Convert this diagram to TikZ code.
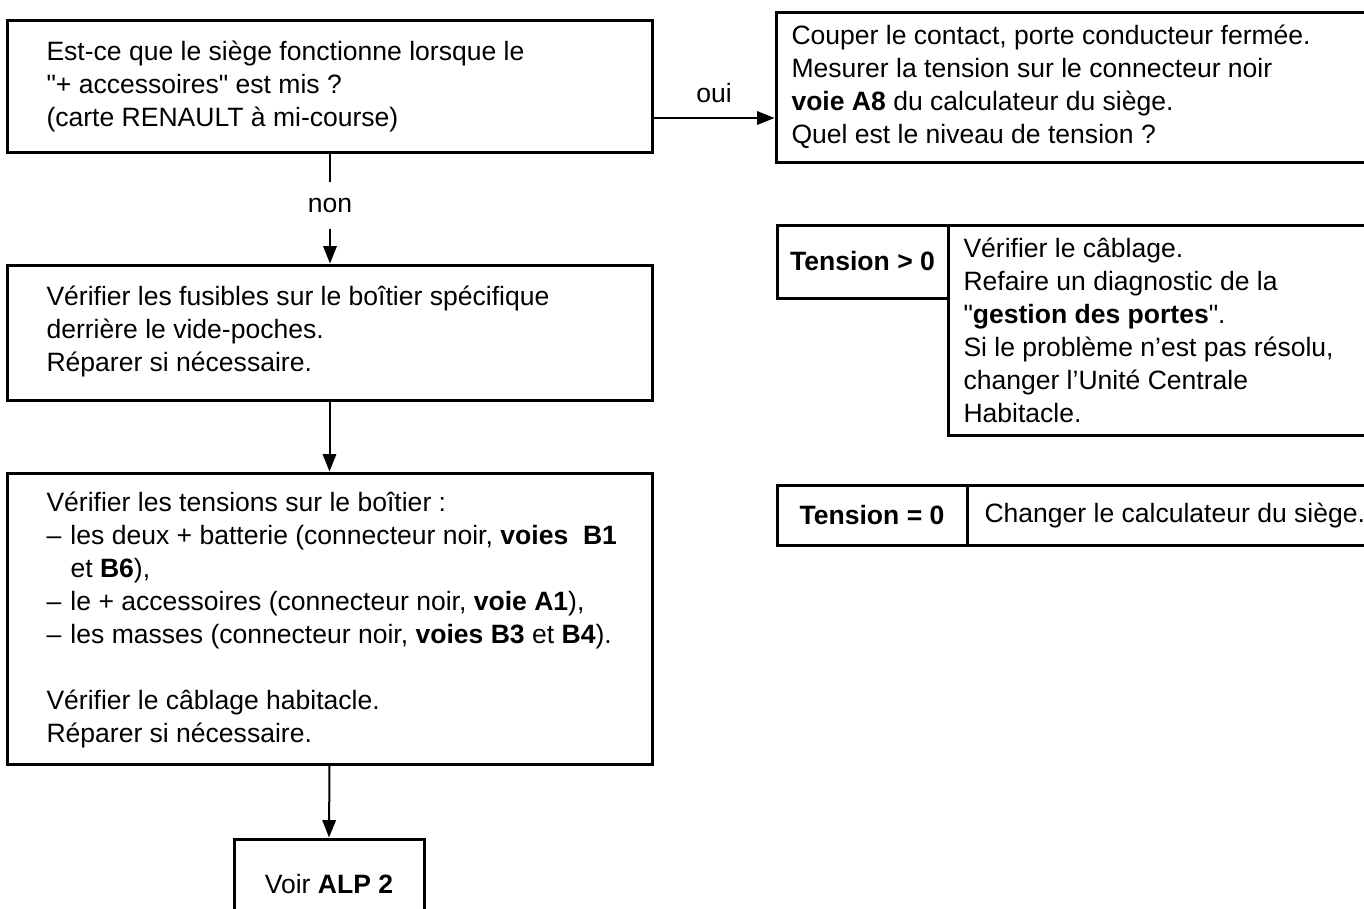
\documentclass[tikz,border=0pt]{standalone}
\usepackage{fontspec}
\setmainfont{Liberation Sans}
\usetikzlibrary{arrows.meta,fit}

\tikzset{every picture/.style={line width=0.75pt}}
\tikzset{
  box/.style={draw, line width=2.25pt, inner sep=0pt},
  txt/.style={anchor=west, align=left, inner sep=0.75pt},
  link/.style={line width=1.5pt, -{Triangle[length=13pt,width=10pt]}}
}
\newcommand{\dashitem}{\makebox[18pt][l]{--}}
\newcommand{\qq}{\XeTeXglyph\XeTeXcharglyph"22\relax}

\begin{document}
\begin{tikzpicture}[x=0.75pt,y=0.75pt,yscale=-1,xscale=1,font=\fontsize{19.9}{24.75}\selectfont]
\clip (0,0) rectangle (1364,908); %page of 1364 x 908

%Shape: Rectangle
\node [box, fit={(7,20) (652,152)}] (qseat) {};
%Shape: Rectangle
\node [box, fit={(7,265) (652,400)}] (qfuse) {};
%Shape: Rectangle
\node [box, fit={(7,473) (652,764)}] (qvolt) {};
%Shape: Rectangle
\node [box, fit={(234,839) (424,930)}] (alp) {};
%Shape: Rectangle
\node [box, fit={(776,12) (1372,162)}] (measure) {};
%Shape: Rectangle
\node [box, fit={(777,225) (948,298)}] (tpos) {};
\node [box, fit={(948,225) (1372,435)}] (tposact) {};
%Shape: Rectangle
\node [box, fit={(777,485) (967,545)}] (tzero) {};
\node [box, fit={(967,485) (1372,545)}] (tzeroact) {};

% Text Node
\node [txt] (qseattxt) at (45,86) {Est-ce que le siège fonctionne lorsque le\\\qq+ accessoires\qq{} est mis ?\\(carte RENAULT à mi-course)};
% Text Node
\node [txt] (qfusetxt) at (45,331) {Vérifier les fusibles sur le boîtier spécifique\\derrière le vide-poches.\\Réparer si nécessaire.};
% Text Node
\node [txt] (qvolttxt) at (45,620) {Vérifier les tensions sur le boîtier :\\
\dashitem les deux + batterie (connecteur noir, \textbf{voies~~B1}\\
\hspace*{18pt}et \textbf{B6}),\\
\dashitem le + accessoires (connecteur noir, \textbf{voie A1}),\\
\dashitem les masses (connecteur noir, \textbf{voies B3} et \textbf{B4}).\\
\strut\\
Vérifier le câblage habitacle.\\
Réparer si nécessaire.};
% Text Node
\node [inner sep=0.75pt] (alptxt) at (alp.center) {Voir \textbf{ALP 2}};
% Text Node
\node [txt] (measuretxt) at (790,87) {Couper le contact, porte conducteur fermée.\\Mesurer la tension sur le connecteur noir\\\textbf{voie A8} du calculateur du siège.\\Quel est le niveau de tension ?};
% Text Node
\node [inner sep=0.75pt] (tpostxt) at (tpos.center) {\textbf{Tension > 0}};
% Text Node
\node [txt] (tposacttxt) at (962,330) {Vérifier le câblage.\\Refaire un diagnostic de la\\\qq\textbf{gestion des portes}\qq.\\Si le problème n’est pas résolu,\\changer l’Unité Centrale\\Habitacle.};
% Text Node
\node [inner sep=0.75pt] (tzerotxt) at (tzero.center) {\textbf{Tension = 0}};
% Text Node
\node [txt] (tzeroacttxt) at (983,515) {Changer le calculateur du siège.};
% Text Node
\node [inner sep=0.75pt, minimum height=34.5pt] (non) at (330,205) {non};
% Text Node
\node [inner sep=0.75pt] (oui) at (714,93) {oui};

%Straight Lines
\draw [line width=1.5pt] (qseat.south -| non) -- (non.north);
\draw [link] (non.south) -- (qfuse.north -| non);
\draw [link] ([yshift=24pt]qseat.east) -- ([yshift=24pt]qseat.east -| measure.west);
\draw [link] (qfuse) -- (qvolt);
\draw [link] (qvolt.south) -- (alp.north);

\end{tikzpicture}
\end{document}
